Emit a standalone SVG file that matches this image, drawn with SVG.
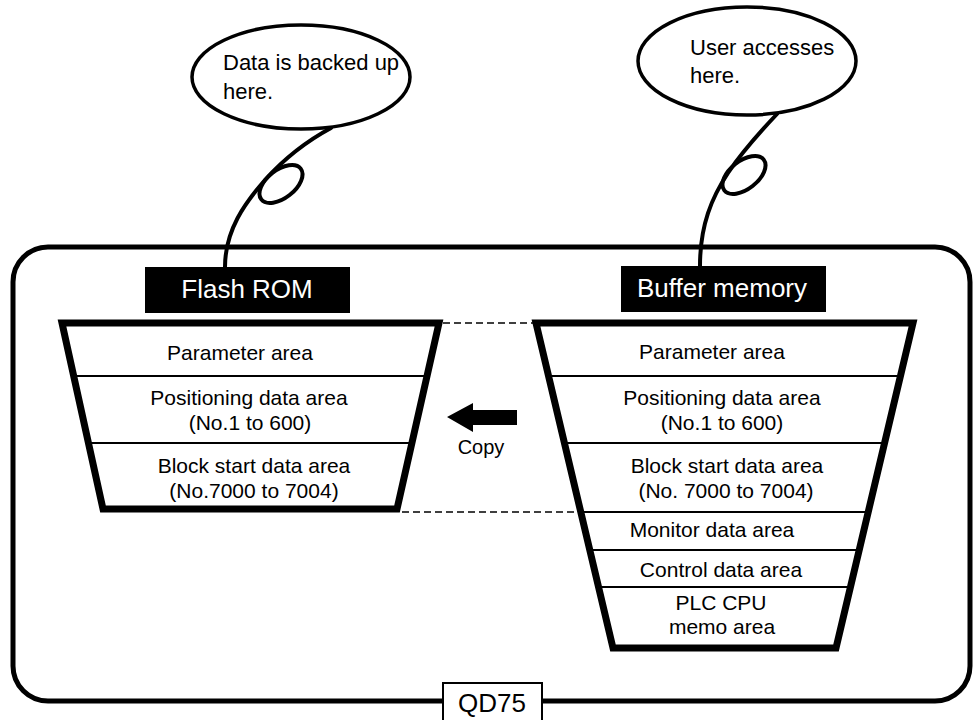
<svg xmlns="http://www.w3.org/2000/svg" width="974" height="720" viewBox="0 0 974 720">
<style>
text{font-family:"Liberation Sans",Arial,sans-serif;fill:#000}
.b{font-size:21px;text-anchor:middle}
.lbl{font-size:26px;text-anchor:middle;fill:#fff}
.call{font-size:22px}
.trap{fill:#fff;stroke:#000;stroke-width:7;stroke-linejoin:miter}
.div{stroke:#000;stroke-width:2}
.tail{fill:none;stroke:#000;stroke-width:4;stroke-linecap:round}
.dash{stroke:#000;stroke-width:1.3;stroke-dasharray:7 4}
</style>
<rect width="974" height="720" fill="#fff"/>

<g id="qd75">
<rect x="13" y="247" width="957" height="454" rx="35" ry="35" fill="none" stroke="#000" stroke-width="5"/>
<rect x="443" y="683" width="99" height="45" fill="#fff" stroke="#000" stroke-width="2"/>
<text x="492" y="712" style="font-size:26px;text-anchor:middle">QD75</text>
</g>

<g id="callout-left">
<ellipse cx="301" cy="77" rx="109" ry="52" fill="#fff" stroke="#000" stroke-width="3.5"/>
<text class="call" x="223" y="70">Data is backed up</text>
<text class="call" x="223" y="99">here.</text>
<path class="tail" d="M331 128 C305 142 283 160 265 180 C245 203 225 230 225 267"/>
<ellipse class="tail" cx="281" cy="184" rx="25" ry="14" transform="rotate(-38 281 184)"/>
</g>

<g id="callout-right">
<ellipse cx="747" cy="61" rx="109" ry="54" fill="#fff" stroke="#000" stroke-width="3.5"/>
<text class="call" x="690" y="55">User accesses</text>
<text class="call" x="690" y="83">here.</text>
<path class="tail" d="M777 114 C760 132 742 152 728 173 C712 197 700 225 700 266"/>
<ellipse class="tail" cx="744" cy="175" rx="25" ry="14" transform="rotate(-38 744 175)"/>
</g>

<g id="connectors">
<line class="dash" x1="443" y1="323" x2="533" y2="323"/>
<line class="dash" x1="402" y1="512" x2="576" y2="512"/>
<polygon points="447,417 473,403 473,410 517,410 517,425 473,425 473,432" fill="#000"/>
<text x="481" y="454" style="font-size:20px;text-anchor:middle">Copy</text>
</g>

<g id="flash-rom">
<rect x="145" y="267" width="205" height="46" fill="#000"/>
<text class="lbl" x="247" y="298">Flash ROM</text>
<polygon class="trap" points="62,323 439,323 397,509 103,509"/>
<line class="div" x1="72" y1="376" x2="428" y2="376"/>
<line class="div" x1="87" y1="443" x2="412" y2="443"/>
<text class="b" x="240" y="360">Parameter area</text>
<text class="b" x="249" y="405">Positioning data area</text>
<text class="b" x="250" y="430">(No.1 to 600)</text>
<text class="b" x="254" y="473">Block start data area</text>
<text class="b" x="254" y="498">(No.7000 to 7004)</text>
</g>

<g id="buffer-memory">
<rect x="621" y="266" width="205" height="46" fill="#000"/>
<text class="lbl" x="722" y="297">Buffer memory</text>
<polygon class="trap" points="536,323 913,323 836,648 613,648"/>
<line class="div" x1="547" y1="376" x2="902" y2="376"/>
<line class="div" x1="563" y1="443" x2="886" y2="443"/>
<line class="div" x1="579" y1="512" x2="870" y2="512"/>
<line class="div" x1="588" y1="550" x2="861" y2="550"/>
<line class="div" x1="597" y1="587" x2="852" y2="587"/>
<text class="b" x="712" y="359">Parameter area</text>
<text class="b" x="722" y="405">Positioning data area</text>
<text class="b" x="722" y="430">(No.1 to 600)</text>
<text class="b" x="727" y="473">Block start data area</text>
<text class="b" x="726" y="498">(No. 7000 to 7004)</text>
<text class="b" x="712" y="537">Monitor data area</text>
<text class="b" x="721" y="577">Control data area</text>
<text class="b" x="721" y="610">PLC CPU</text>
<text class="b" x="722" y="634">memo area</text>
</g>
</svg>
